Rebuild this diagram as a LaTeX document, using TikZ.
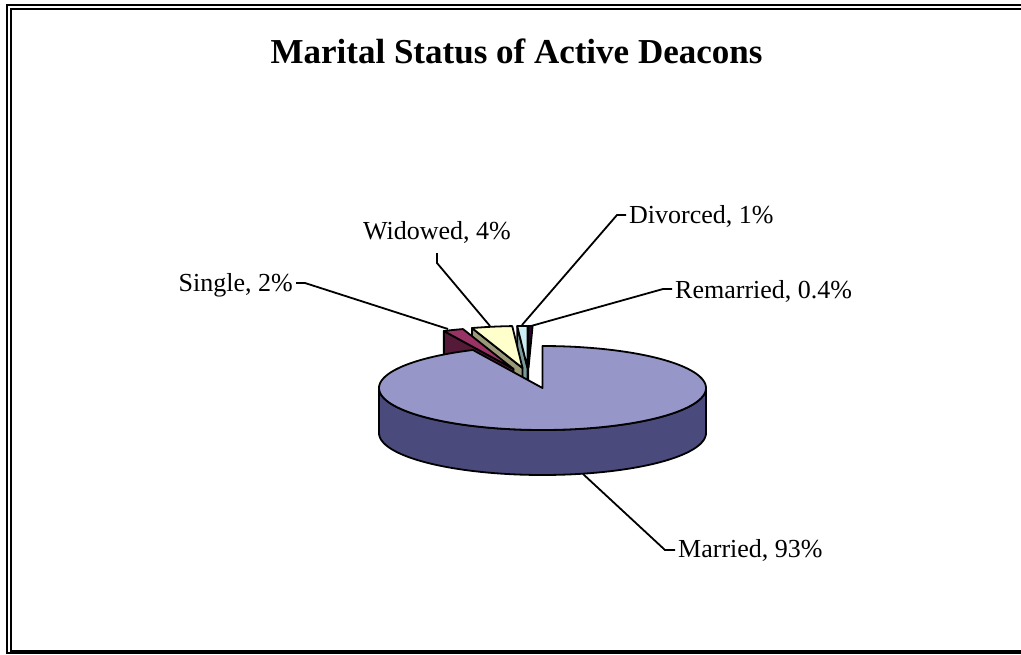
\documentclass[tikz,border=0pt]{standalone}
\usepackage{fontspec}
\setmainfont{Liberation Serif}
\definecolor{mtop}{HTML}{9696C8}
\definecolor{mside}{HTML}{4A4A7C}
\definecolor{stop}{HTML}{993366}
\definecolor{sside}{HTML}{541A38}
\definecolor{wtop}{HTML}{FFFFCC}
\definecolor{wside}{HTML}{9A9A78}
\definecolor{dtop}{HTML}{CCEEF2}
\definecolor{dside}{HTML}{7A9A9A}
\definecolor{rtop}{HTML}{330033}
\definecolor{rside}{HTML}{1A001A}
\def\cx{542.5}
\def\cy{388}
\def\rx{163.5}
\def\ry{42}
\def\dep{45}
\newcommand\pieslice[6]{%
  \filldraw[fill=#6] ({\cx+#3},{\cy+#4}) -- ({\cx+#3+\rx*sin(#1)},{\cy+#4-\ry*cos(#1)}) -- ({\cx+#3+\rx*sin(#1)},{\cy+#4-\ry*cos(#1)+\dep}) -- ({\cx+#3},{\cy+#4+\dep}) -- cycle;
  \filldraw[fill=#5] ({\cx+#3},{\cy+#4}) -- plot[domain=#1:#2,samples=12,variable=\t] ({\cx+#3+\rx*sin(\t)},{\cy+#4-\ry*cos(\t)}) -- cycle;
}
\tikzset{
  lbl/.style={font=\fontsize{26}{30}\selectfont, inner sep=0pt},
  leader/.style={line width=1.8pt},
  pieline/.style={line width=1.8pt, line join=round}
}
\begin{document}
\begin{tikzpicture}[x=1pt,y=-1pt]
\useasboundingbox (0,0) rectangle (1021,654);
\fill[white] (0,0) rectangle (1021,654);
% frame
\draw[line width=2.2pt] (7.1,5) rectangle (1060,653);
\draw[line width=1.7pt] (10.9,8.9) rectangle (1050,651);
% title
\node[font=\fontsize{35}{40}\selectfont\bfseries, anchor=base, inner sep=0pt] (title) at (516.5,63.5) {Marital Status of Active Deacons};
% exploded slices (right to left, back to front)
\begin{scope}[pieline]
\pieslice{0}{1.44}{-14}{-20}{rtop}{rside}
\pieslice{-3.6}{0}{-15}{-20}{dtop}{dside}
\pieslice{-18}{-3.6}{-20}{-20}{wtop}{wside}
\pieslice{-25.2}{-18}{-29}{-19}{stop}{sside}
% married side
\filldraw[fill=mside] plot[domain=90:270,samples=80,variable=\t] ({\cx+\rx*sin(\t)},{\cy-\ry*cos(\t)}) -- plot[domain=270:90,samples=80,variable=\t] ({\cx+\rx*sin(\t)},{\cy+\dep-\ry*cos(\t)}) -- cycle;
% married top
\filldraw[fill=mtop] (\cx,\cy) -- plot[domain=0:334.8,samples=140,variable=\t] ({\cx+\rx*sin(\t)},{\cy-\ry*cos(\t)}) -- cycle;
\end{scope}
% labels
\node[lbl, anchor=base east] (single) at (293,291) {Single, 2\%};
\node[lbl, anchor=base] (widowed) at (437,239) {Widowed, 4\%};
\node[lbl, anchor=base west] (divorced) at (629,223) {Divorced, 1\%};
\node[lbl, anchor=base west] (remarried) at (675,298) {Remarried, 0.4\%};
\node[lbl, anchor=base west] (married) at (678,557) {Married, 93\%};
% leader coordinates
\coordinate (s1) at (296,283);
\coordinate (s2) at (305,283);
\coordinate (s3) at (448,329);
\coordinate (w1) at (437,253);
\coordinate (w2) at (437,263);
\coordinate (w3) at (490,326);
\coordinate (d1) at (626,215);
\coordinate (d2) at (617,215);
\coordinate (d3) at (522,325);
\coordinate (r1) at (672,289);
\coordinate (r2) at (663,289);
\coordinate (r3) at (531,326);
\coordinate (m1) at (583,474);
\coordinate (m2) at (665,550);
\coordinate (m3) at (675,550);
\draw[leader] (s1) -- (s2) -- (s3);
\draw[leader] (w1) -- (w2) -- (w3);
\draw[leader] (d1) -- (d2) -- (d3);
\draw[leader] (r1) -- (r2) -- (r3);
\draw[leader] (m1) -- (m2) -- (m3);
\end{tikzpicture}
\end{document}
